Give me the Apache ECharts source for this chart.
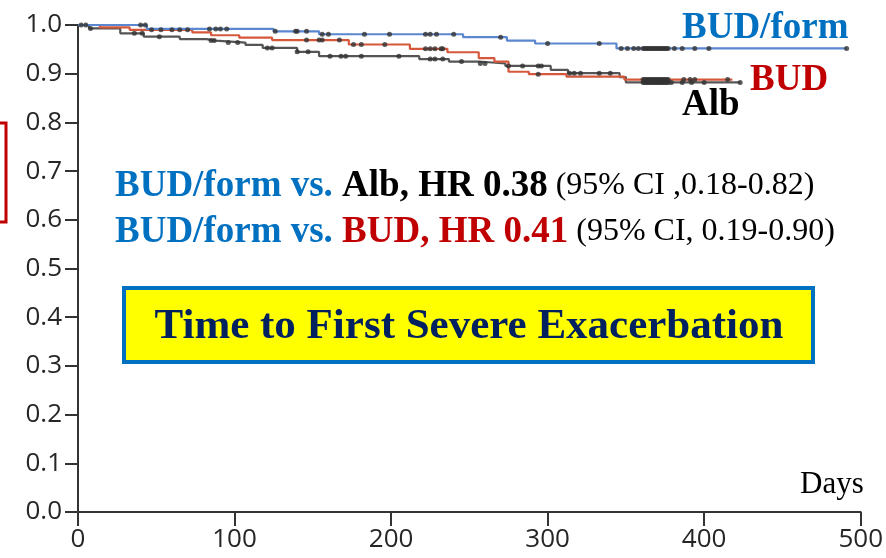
<!DOCTYPE html>
<html>
<head>
<meta charset="utf-8">
<script src="https://cdn.jsdelivr.net/npm/echarts@6/dist/echarts.min.js"></script>
<style>
  html, body { margin: 0; padding: 0; background: #fff; }
  #chart { width: 886px; height: 558px; }
</style>
</head>
<body>
<div id="chart"></div>
<script>
// Kaplan-Meier steps: [day, proportion without severe exacerbation]
const budFormSteps = [[0,1],[44,0.992],[125,0.987],[154,0.981],[246,0.975],[274,0.968],[292,0.962],[344,0.952],[491,0.952]];
const budSteps = [[0,1],[14,0.995],[33,0.99],[73,0.985],[85,0.979],[103,0.974],[124,0.969],[173,0.96],[212,0.951],[236,0.944],[256,0.932],[266,0.925],[275,0.904],[288,0.899],[312,0.894],[349,0.888],[418,0.888]];
const albSteps = [[0,1],[7,0.993],[27,0.983],[42,0.976],[65,0.971],[82,0.968],[88,0.964],[107,0.959],[118,0.953],[140,0.945],[154,0.936],[218,0.93],[237,0.925],[256,0.921],[273,0.916],[302,0.908],[313,0.901],[346,0.893],[350,0.882],[423,0.882]];

// Censoring days per group
const budFormCensored = [40,43,84,88,91,95,126,139,140,146,156,160,183,199,222,225,229,240,270,300,333,347,351,355,358,361,362,363,364,365,366,367,368,369,370,371,372,373,374,375,376,377,381,386,394,403,491];
const budCensored = [47,53,60,65,70,146,154,156,167,176,181,196,222,225,228,232,233,294,361,362,363,364,365,366,367,368,369,370,371,372,373,374,375,376,377,387,391,394,415];
const albCensored = [2,5,8,36,41,52,85,87,96,102,121,124,140,147,161,168,171,181,205,225,228,233,245,257,260,275,284,294,296,314,317,321,333,340,361,362,363,364,365,366,367,368,369,370,371,372,373,374,375,376,377,379,386,392,400,423];

const yTicks = [0,0.1,0.2,0.3,0.4,0.5,0.6,0.7,0.8,0.9,1.0];
const xTicks = [0,100,200,300,400,500];

function survivalAt(steps, day) {
  let v = steps[0][1];
  for (const s of steps) { if (s[0] <= day) v = s[1]; }
  return v;
}
function censorPoints(steps, days) {
  return days.map(d => [d, survivalAt(steps, d)]);
}

const BLUE = '#5b87d0', RED = '#d5583c', GRAY = '#555555';
const SERIF = '"Liberation Serif", "Times New Roman", serif';

function stepSeries(name, data, color, z) {
  return { name, type: 'line', step: 'end', data, symbol: 'none', z,
    lineStyle: { color, width: 2.2 }, animation: false };
}
function censorSeries(data) {
  return { type: 'scatter', data, symbol: 'circle', symbolSize: 5, z: 5,
    itemStyle: { color: '#333' }, animation: false };
}

const chart = echarts.init(document.getElementById('chart'), null, { renderer: 'canvas' });
chart.setOption({
  animation: false,
  grid: { left: 78, right: 22, top: 25, bottom: 46 },
  xAxis: {
    type: 'value', min: 0, max: 500, interval: 100,
    axisLine: { lineStyle: { color: '#333', width: 2 } },
    axisTick: { show: true, length: 14, lineStyle: { color: '#333', width: 2 } },
    splitLine: { show: false },
    axisLabel: { fontFamily: '"Open Sans", sans-serif', fontSize: 26, color: '#262626', margin: 15,
      formatter: v => xTicks.includes(v) ? String(v) : '' }
  },
  yAxis: {
    type: 'value', min: 0, max: 1, interval: 0.1,
    axisLine: { show: true, lineStyle: { color: '#333', width: 2 } },
    axisTick: { show: true, length: 13, lineStyle: { color: '#333', width: 2 } },
    splitLine: { show: false },
    axisLabel: { fontFamily: '"Open Sans", sans-serif', fontSize: 26, color: '#262626', margin: 16,
      formatter: v => yTicks.some(t => Math.abs(t - v) < 1e-9) ? v.toFixed(1) : '' }
  },
  series: [
    stepSeries('Alb', albSteps, GRAY, 2),
    stepSeries('BUD', budSteps, RED, 3),
    stepSeries('BUD/form', budFormSteps, BLUE, 4),
    censorSeries(censorPoints(albSteps, albCensored)),
    censorSeries(censorPoints(budSteps, budCensored)),
    censorSeries(censorPoints(budFormSteps, budFormCensored))
  ],
  graphic: [
    { type: 'rect', shape: { x: -20, y: 123, width: 26, height: 99 },
      style: { fill: 'none', stroke: '#c00000', lineWidth: 3 } },
    { type: 'text', x: 682, y: 28, style: { text: 'BUD/form', font: 'bold 37px ' + SERIF, fill: '#0070c0', verticalAlign: 'middle' } },
    { type: 'text', x: 750, y: 80, style: { text: 'BUD', font: 'bold 37px ' + SERIF, fill: '#c00000', verticalAlign: 'middle' } },
    { type: 'text', x: 682, y: 105, style: { text: 'Alb', font: 'bold 37px ' + SERIF, fill: '#000', verticalAlign: 'middle' } },
    { type: 'text', x: 115, y: 186, style: {
        text: '{b|BUD/form vs. }{k|Alb, HR 0.38}{n| (95% CI ,0.18-0.82)}',
        verticalAlign: 'middle',
        rich: {
          b: { font: 'bold 37px ' + SERIF, fill: '#0070c0' },
          k: { font: 'bold 37px ' + SERIF, fill: '#000' },
          n: { font: '32px ' + SERIF, fill: '#000' }
        } } },
    { type: 'text', x: 115, y: 232, style: {
        text: '{b|BUD/form vs. }{r|BUD, HR 0.41}{n| (95% CI, 0.19-0.90)}',
        verticalAlign: 'middle',
        rich: {
          b: { font: 'bold 37px ' + SERIF, fill: '#0070c0' },
          r: { font: 'bold 37px ' + SERIF, fill: '#c00000' },
          n: { font: '32px ' + SERIF, fill: '#000' }
        } } },
    { type: 'rect', shape: { x: 124, y: 288, width: 689, height: 74 },
      style: { fill: '#ffff00', stroke: '#0070c0', lineWidth: 4 } },
    { type: 'text', x: 469, y: 327, style: { text: 'Time to First Severe Exacerbation',
        font: 'bold 43px ' + SERIF, fill: '#002060', align: 'center', verticalAlign: 'middle' } },
    { type: 'text', x: 800, y: 485, style: { text: 'Days', font: '31px ' + SERIF, fill: '#000', verticalAlign: 'middle' } }
  ]
});
</script>
</body>
</html>
